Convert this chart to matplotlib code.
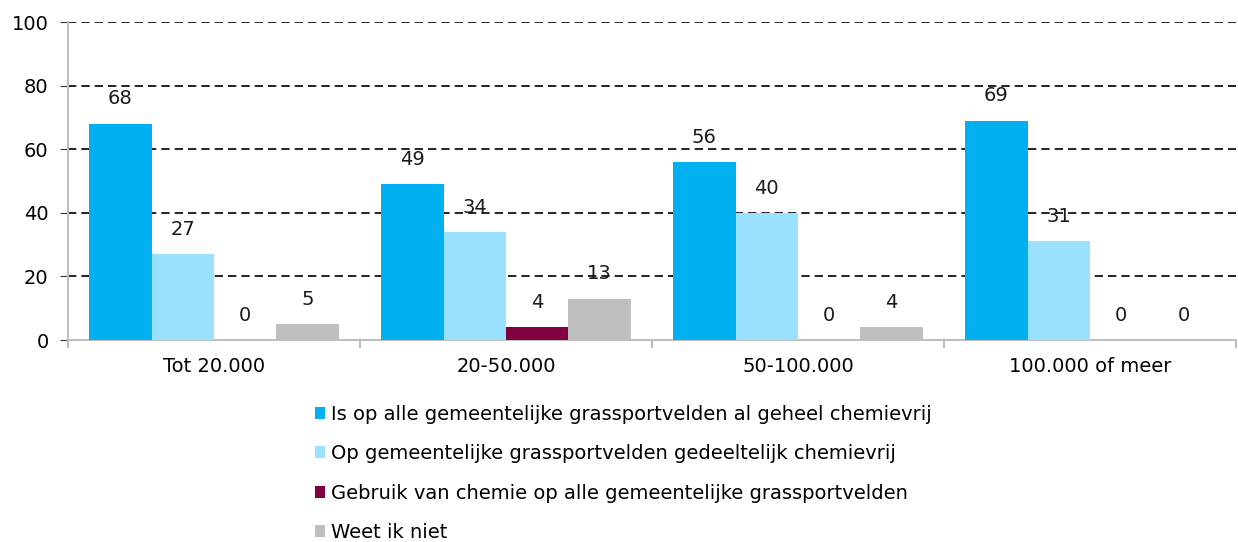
import matplotlib.pyplot as plt
from matplotlib.patches import Patch
import numpy as np

categories = ['Tot 20.000', '20-50.000', '50-100.000', '100.000 of meer']
series_names = [
    'Is op alle gemeentelijke grassportvelden al geheel chemievrij',
    'Op gemeentelijke grassportvelden gedeeltelijk chemievrij',
    'Gebruik van chemie op alle gemeentelijke grassportvelden',
    'Weet ik niet',
]
chemievrij = [68, 49, 56, 69]
gedeeltelijk = [27, 34, 40, 31]
chemie = [0, 4, 0, 0]
weet_niet = [5, 13, 4, 0]
colors = ['#00B0F0', '#99E1FF', '#7F0040', '#BFBFBF']

series = [chemievrij, gedeeltelijk, chemie, weet_niet]

fig = plt.figure(figsize=(12.38, 5.42), dpi=100)
ax = fig.add_axes([68 / 1238, 1 - 340 / 542, 1168 / 1238, 318 / 542])

x = np.arange(len(categories))
w = 0.214
for i, (vals, col) in enumerate(zip(series, colors)):
    pos = x + (i - 1.5) * w
    bars = ax.bar(pos, vals, w, color=col, zorder=3)
    for b, v in zip(bars, vals):
        ax.annotate(str(v), (b.get_x() + b.get_width() / 2, v),
                    xytext=(0, 11), textcoords='offset points',
                    ha='center', va='bottom', fontsize=14, color='#1a1a1a')

ax.set_ylim(0, 100)
ax.set_xlim(-0.5, 3.5)
ax.set_yticks(range(0, 101, 20))
ax.yaxis.grid(True, linestyle=(0, (5, 3)), color='black', linewidth=1.2, zorder=0)
ax.set_axisbelow(True)

ax.set_xticks(x)
ax.set_xticklabels(categories, fontsize=14)
ax.set_xticks(np.arange(-0.5, 4, 1), minor=True)
ax.tick_params(axis='x', which='major', length=0, pad=12)
ax.tick_params(axis='x', which='minor', length=6, color='#BFBFBF', width=1.5)
ax.tick_params(axis='y', length=6, color='#333333', labelsize=14, pad=8)

for s in ['top', 'right']:
    ax.spines[s].set_visible(False)
ax.spines['left'].set_color('#BFBFBF')
ax.spines['bottom'].set_color('#BFBFBF')
ax.spines['left'].set_linewidth(1.5)
ax.spines['bottom'].set_linewidth(1.5)

handles = [Patch(facecolor=c, edgecolor='none') for c in colors]
fig.legend(handles, series_names, loc='upper left', bbox_to_anchor=(305 / 1238, 1 - 395 / 542),
           frameon=False, fontsize=14, handlelength=0.55, handleheight=0.55,
           handletextpad=0.3, labelspacing=1.05, borderpad=0)

fig.savefig('out.png', dpi=100)
